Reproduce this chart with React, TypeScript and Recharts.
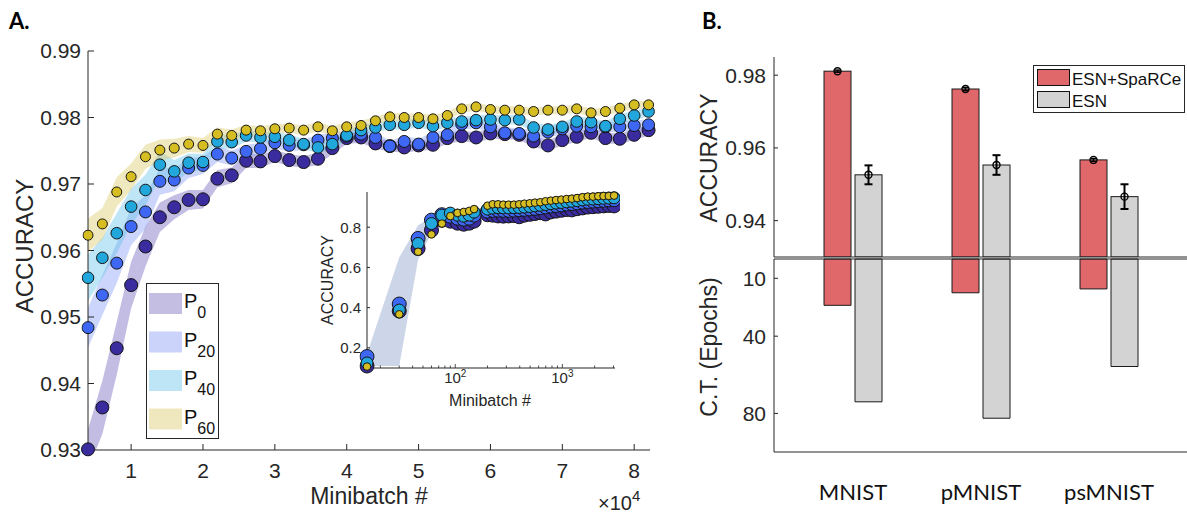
import React from "react";
import {
  Area,
  Bar,
  BarChart,
  ComposedChart,
  ErrorBar,
  Line,
  ReferenceLine,
  XAxis,
  YAxis,
} from "recharts";

const FONT = '"Liberation Sans", Arial, Helvetica, sans-serif';
const TITLE_FONT = 'Lato, "Open Sans", sans-serif';
const INK = "#262626";

// ---- panel A, main axes (minibatch in units of 10^4) ----
const minibatch = [
  0.4, 0.6, 0.8, 1.0, 1.2, 1.4, 1.6, 1.8, 2.0, 2.2, 2.4, 2.6, 2.8, 3.0, 3.2, 3.4, 3.6, 3.8, 4.0, 4.2,
  4.4, 4.6, 4.8, 5.0, 5.2, 5.4, 5.6, 5.8, 6.0, 6.2, 6.4, 6.6, 6.8, 7.0, 7.2, 7.4, 7.6, 7.8, 8.0, 8.2,
];
const accP0 = [
  0.9301, 0.9364, 0.9453, 0.9548, 0.9606, 0.965, 0.9665, 0.9676, 0.9677, 0.9708, 0.9713, 0.9735, 0.9734,
  0.9742, 0.9736, 0.9733, 0.9738, 0.9754, 0.9769, 0.977, 0.9761, 0.9757, 0.9755, 0.9758, 0.9759, 0.9769,
  0.9772, 0.977, 0.9776, 0.9775, 0.9774, 0.9764, 0.9758, 0.9766, 0.9771, 0.9777, 0.9769, 0.9768, 0.9774,
  0.9781,
];
const accP20 = [
  0.9484, 0.9533, 0.9581, 0.9636, 0.9658, 0.9704, 0.9706, 0.9724, 0.9728, 0.9745, 0.9739, 0.9749, 0.9753,
  0.9762, 0.9758, 0.9759, 0.9766, 0.9769, 0.9772, 0.9775, 0.977, 0.9757, 0.9764, 0.976, 0.977, 0.9774,
  0.979, 0.9792, 0.9786, 0.9777, 0.9776, 0.9772, 0.9778, 0.9783, 0.9787, 0.9786, 0.9786, 0.9786, 0.9788,
  0.9789,
];
const accP40 = [
  0.9559, 0.9589, 0.9626, 0.9666, 0.9691, 0.9729, 0.9719, 0.9732, 0.9733, 0.9764, 0.9763, 0.9773, 0.977,
  0.9771, 0.9766, 0.976, 0.9755, 0.976, 0.9773, 0.9781, 0.9785, 0.9789, 0.9789, 0.9792, 0.9787, 0.9792,
  0.9794, 0.9796, 0.9797, 0.9796, 0.9797, 0.9785, 0.9782, 0.9786, 0.9794, 0.9793, 0.9787, 0.9798, 0.9803,
  0.9809,
];
const accP60 = [
  0.9623, 0.964, 0.9688, 0.9711, 0.9741, 0.9751, 0.9754, 0.976, 0.9758, 0.9775, 0.9773, 0.9781, 0.978,
  0.9783, 0.9784, 0.9781, 0.9786, 0.978, 0.9786, 0.9788, 0.9795, 0.9801, 0.98, 0.98, 0.9798, 0.9803,
  0.9813, 0.9816, 0.9812, 0.9811, 0.9811, 0.9809, 0.9811, 0.9811, 0.9813, 0.9807, 0.9809, 0.9814, 0.9819,
  0.9819,
];
// half widths of the shaded bands
const spreadP0 = [
  0.003, 0.004, 0.004, 0.0035, 0.003, 0.0022, 0.0018, 0.0015, 0.0014, 0.0013, 0.0012, 0.0011, 0.001,
  0.0009, 0.0009, 0.0009, 0.0009, 0.0009, 0.0009, 0.0008, 0.0008, 0.0008, 0.0008, 0.0008, 0.0008, 0.0008,
  0.0008, 0.0008, 0.0008, 0.0008, 0.0008, 0.0008, 0.0008, 0.0008, 0.0008, 0.0008, 0.0008, 0.0008, 0.0008,
  0.0008,
];
const spreadP20 = [
  0.003, 0.003, 0.003, 0.0028, 0.0025, 0.002, 0.0017, 0.0015, 0.0013, 0.0012, 0.0011, 0.001, 0.0009,
  0.0009, 0.0009, 0.0008, 0.0008, 0.0008, 0.0008, 0.0008, 0.0008, 0.0008, 0.0008, 0.0008, 0.0008, 0.0008,
  0.0008, 0.0008, 0.0008, 0.0008, 0.0008, 0.0008, 0.0008, 0.0008, 0.0008, 0.0008, 0.0008, 0.0008, 0.0008,
  0.0008,
];
const spreadP40 = [
  0.0035, 0.003, 0.003, 0.0027, 0.0023, 0.002, 0.0017, 0.0014, 0.0012, 0.0011, 0.001, 0.0009, 0.0008,
  0.0008, 0.0008, 0.0008, 0.0008, 0.0008, 0.0008, 0.0008, 0.0007, 0.0007, 0.0007, 0.0007, 0.0007, 0.0007,
  0.0007, 0.0007, 0.0007, 0.0007, 0.0007, 0.0007, 0.0007, 0.0007, 0.0007, 0.0007, 0.0007, 0.0007, 0.0007,
  0.0007,
];
const spreadP60 = [
  0.0025, 0.0024, 0.0022, 0.002, 0.0018, 0.0016, 0.0014, 0.0012, 0.0011, 0.001, 0.0009, 0.0008, 0.0007,
  0.0007, 0.0007, 0.0007, 0.0007, 0.0007, 0.0007, 0.0007, 0.0006, 0.0006, 0.0006, 0.0006, 0.0006, 0.0006,
  0.0006, 0.0006, 0.0006, 0.0006, 0.0006, 0.0006, 0.0006, 0.0006, 0.0006, 0.0006, 0.0006, 0.0006, 0.0006,
  0.0006,
];
const mainXTicks = [1, 2, 3, 4, 5, 6, 7, 8];
const mainYTicks = [0.93, 0.94, 0.95, 0.96, 0.97, 0.98, 0.99];

// ---- panel A, inset (log x) ----
const insetMinibatch = [
  15, 30, 45, 60, 75, 90, 105, 120, 135, 150, 200, 224, 251, 281, 315, 353, 395, 442, 496, 555, 622, 696,
  780, 873, 978, 1096, 1227, 1375, 1540, 1724, 1931, 2163, 2423, 2713, 3039,
];
const insetP0 = [
  0.11, 0.383, 0.694, 0.785, 0.835, 0.83, 0.82, 0.815, 0.82, 0.83, 0.862, 0.86, 0.856, 0.855, 0.856, 0.858,
  0.852, 0.86, 0.864, 0.868, 0.872, 0.866, 0.876, 0.88, 0.884, 0.888, 0.886, 0.892, 0.896, 0.9, 0.902,
  0.904, 0.906, 0.908, 0.906,
];
const insetP20 = [
  0.157, 0.418, 0.744, 0.835, 0.862, 0.855, 0.845, 0.84, 0.845, 0.86, 0.88, 0.884, 0.885, 0.884, 0.884,
  0.885, 0.887, 0.889, 0.891, 0.894, 0.897, 0.901, 0.905, 0.908, 0.911, 0.915, 0.918, 0.921, 0.925, 0.928,
  0.93, 0.932, 0.934, 0.936, 0.937,
];
const insetP40 = [
  0.125, 0.388, 0.719, 0.818, 0.86, 0.87, 0.86, 0.855, 0.86, 0.875, 0.89, 0.895, 0.897, 0.896, 0.896,
  0.897, 0.898, 0.9, 0.903, 0.906, 0.909, 0.913, 0.917, 0.92, 0.923, 0.926, 0.929, 0.932, 0.936, 0.939,
  0.94, 0.942, 0.944, 0.945, 0.946,
];
const insetP60 = [
  0.107, 0.367, 0.678, 0.764, 0.818, 0.855, 0.871, 0.876, 0.881, 0.89, 0.907, 0.914, 0.914, 0.912, 0.912,
  0.912, 0.914, 0.917, 0.919, 0.922, 0.924, 0.929, 0.932, 0.935, 0.937, 0.94, 0.942, 0.945, 0.949, 0.952,
  0.952, 0.954, 0.955, 0.955, 0.957,
];
const insetBandLow = [0.11, 0.11, 0.64, 0.77, 0.82];
const insetBandHigh = [0.17, 0.65, 0.81, 0.85, 0.87];
const insetXTicks = [20, 30, 40, 50, 60, 70, 80, 90, 100, 200, 300, 400, 500, 600, 700, 800, 900, 1000, 2000, 3000];
const insetXLabelled = [100, 1000];
const insetYTicks = [0.2, 0.4, 0.6, 0.8];

// ---- panel B ----
const datasets = ["MNIST", "pMNIST", "psMNIST"];
const accSparce = [0.9811, 0.9762, 0.9567];
const accSparceErr = [0.0003, 0.0004, 0.0004];
const accEsn = [0.9526, 0.9553, 0.9466];
const accEsnErr = [0.0026, 0.0027, 0.0034];
const epochsSparce = [24, 17.5, 15.5];
const epochsEsn = [74, 82.5, 55.7];
const accTicks = [0.94, 0.96, 0.98];
const epochTicks = [10, 40, 80];

const series = [
  { key: "p0", label: "0", dot: "#3a2b9e", band: "#7a6cc4", bandOpacity: 0.45, swatch: "#c5bee3", r: 6.5, ri: 7 },
  { key: "p20", label: "20", dot: "#3e68f4", band: "#7f95f5", bandOpacity: 0.4, swatch: "#cbd3fb", r: 6, ri: 7 },
  { key: "p40", label: "40", dot: "#21a7dc", band: "#5fc0ea", bandOpacity: 0.4, swatch: "#bee5f6", r: 5.8, ri: 6 },
  { key: "p60", label: "60", dot: "#d5bd22", band: "#d9c560", bandOpacity: 0.4, swatch: "#efe7be", r: 5, ri: 3.8 },
];

const mainValues = [accP0, accP20, accP40, accP60];
const mainSpreads = [spreadP0, spreadP20, spreadP40, spreadP60];
const insetValues = [insetP0, insetP20, insetP40, insetP60];

const mainRows = minibatch.map((x, i) => {
  const row: any = { x };
  series.forEach((s, k) => {
    const v = mainValues[k][i];
    row[s.key] = v;
    row[s.key + "Band"] = [v - mainSpreads[k][i], v + mainSpreads[k][i]];
  });
  return row;
});

const insetRows = insetMinibatch.map((x, i) => {
  const row: any = { x };
  series.forEach((s, k) => {
    row[s.key] = insetValues[k][i];
  });
  if (i < insetBandLow.length) row.band = [insetBandLow[i], insetBandHigh[i]];
  return row;
});

const barRows = datasets.map((name, i) => ({
  name,
  sparce: accSparce[i],
  sparceErr: accSparceErr[i],
  esn: accEsn[i],
  esnErr: accEsnErr[i],
  ctSparce: epochsSparce[i],
  ctEsn: epochsEsn[i],
}));

const tickStyle = { fontSize: 21, fill: INK, fontFamily: FONT };

const LogTick = (props: any) => {
  const { x, y, payload } = props;
  const major = insetXLabelled.includes(payload.value);
  return (
    <g>
      <line x1={x} x2={x} y1={y} y2={y - (major ? 4 : 2.5)} stroke={INK} strokeWidth={0.8} />
      {major && (
        <text x={x} y={y + 15} textAnchor="middle" fontSize={15} fill={INK} fontFamily={FONT}>
          10
          <tspan dy={-6} fontSize={10}>
            {Math.round(Math.log10(payload.value))}
          </tspan>
        </text>
      )}
    </g>
  );
};

const BarWithMean = (props: any) => {
  const { x, y, width, height, fill } = props;
  return (
    <g>
      <rect x={x} y={y} width={width} height={height} fill={fill} stroke="#1a1a1a" strokeWidth={1} />
      <circle cx={x + width / 2} cy={y} r={3.5} fill="none" stroke="#000" strokeWidth={1.4} />
    </g>
  );
};

const RED = "#e0676a";
const GREY = "#d3d3d3";

export default function App() {
  return (
    <div
      style={{
        position: "absolute",
        left: 0,
        top: 0,
        width: 1187,
        height: 514,
        overflow: "hidden",
        background: "#fff",
        fontFamily: FONT,
      }}
    >
      {/* panel A main */}
      <div style={{ position: "absolute", left: 0, top: 0 }}>
        <ComposedChart width={680} height={514} data={mainRows} margin={{ top: 51, right: 30, bottom: 0, left: 0 }}>
          <XAxis
            dataKey="x"
            type="number"
            domain={[0.4, 8.22]}
            ticks={mainXTicks}
            interval={0}
            allowDataOverflow
            height={64}
            tickSize={-6}
            tickMargin={19}
            stroke={INK}
            tick={tickStyle}
          />
          <YAxis
            type="number"
            domain={[0.93, 0.99]}
            ticks={mainYTicks}
            interval={0}
            allowDataOverflow
            width={88}
            tickSize={-6}
            tickMargin={13}
            stroke={INK}
            tick={tickStyle}
            tickFormatter={(v: number) => v.toFixed(2)}
          />
          {series.map((s) => (
            <Area
              key={s.key + "Band"}
              dataKey={s.key + "Band"}
              type="linear"
              stroke="none"
              fill={s.band}
              fillOpacity={s.bandOpacity}
              activeDot={false}
              isAnimationActive={false}
            />
          ))}
          {series.map((s) => (
            <Line
              key={s.key}
              dataKey={s.key}
              stroke="none"
              dot={{ r: s.r, fill: s.dot, stroke: "#151515", strokeWidth: 1, fillOpacity: 1, clipDot: false }}
              activeDot={false}
              isAnimationActive={false}
            />
          ))}
        </ComposedChart>
      </div>

      {/* panel A inset */}
      <div style={{ position: "absolute", left: 300, top: 170 }}>
        <ComposedChart width={320} height={230} data={insetRows} margin={{ top: 22, right: 5, bottom: 0, left: 0 }}>
          <XAxis
            dataKey="x"
            type="number"
            scale="log"
            domain={[15, 3100]}
            allowDataOverflow
            ticks={insetXTicks}
            interval={0}
            height={32}
            tickSize={0}
            tickMargin={0}
            stroke={INK}
            tick={(p: any) => <LogTick {...p} />}
          />
          <YAxis
            type="number"
            domain={[0.1, 0.975]}
            ticks={insetYTicks}
            interval={0}
            allowDataOverflow
            width={67}
            tickSize={-3}
            tickMargin={9}
            stroke={INK}
            tick={{ fontSize: 15, fill: INK, fontFamily: FONT }}
            tickFormatter={(v: number) => v.toFixed(1)}
          />
          <Area
            dataKey="band"
            type="linear"
            stroke="none"
            fill="#8fa5cc"
            fillOpacity={0.45}
            activeDot={false}
            isAnimationActive={false}
          />
          {series.map((s) => (
            <Line
              key={s.key}
              dataKey={s.key}
              stroke="none"
              dot={{ r: s.ri, fill: s.dot, stroke: "#151515", strokeWidth: 1, fillOpacity: 1, clipDot: false }}
              activeDot={false}
              isAnimationActive={false}
            />
          ))}
        </ComposedChart>
      </div>

      {/* panel B accuracy */}
      <div style={{ position: "absolute", left: 690, top: 40 }}>
        <BarChart
          width={497}
          height={218}
          data={barRows}
          margin={{ top: 17, right: 0, bottom: 0, left: 0 }}
          barSize={27}
          barGap={4}
        >
          <XAxis dataKey="name" height={1} tick={false} tickLine={false} stroke={INK} padding={{ left: 15, right: 14 }} />
          <YAxis
            type="number"
            domain={[0.93, 0.985]}
            ticks={accTicks}
            interval={0}
            allowDataOverflow
            width={84}
            tickSize={-4}
            tickMargin={12}
            stroke={INK}
            tick={tickStyle}
            tickFormatter={(v: number) => v.toFixed(2)}
          />
          <Bar dataKey="sparce" fill={RED} shape={BarWithMean} isAnimationActive={false}>
            <ErrorBar dataKey="sparceErr" width={3} strokeWidth={1.5} stroke="#000" />
          </Bar>
          <Bar dataKey="esn" fill={GREY} shape={BarWithMean} isAnimationActive={false}>
            <ErrorBar dataKey="esnErr" width={4} strokeWidth={2} stroke="#000" />
          </Bar>
        </BarChart>
      </div>

      {/* panel B convergence time */}
      <div style={{ position: "absolute", left: 690, top: 250 }}>
        <BarChart
          width={497}
          height={262}
          data={barRows}
          margin={{ top: 9, right: 0, bottom: 0, left: 0 }}
          barSize={27}
          barGap={4}
        >
          <XAxis
            dataKey="name"
            height={60}
            tickLine={false}
            tickSize={0}
            tickMargin={32}
            stroke={INK}
            padding={{ left: 15, right: 14 }}
            interval={0}
            tick={{ fontSize: 22, fill: "#111", fontFamily: TITLE_FONT }}
          />
          <YAxis
            type="number"
            domain={[0, 100]}
            reversed
            ticks={epochTicks}
            interval={0}
            width={84}
            tickSize={-4}
            tickMargin={12}
            stroke={INK}
            tick={tickStyle}
          />
          <ReferenceLine y={0} stroke={INK} strokeWidth={1} />
          <Bar dataKey="ctSparce" fill={RED} stroke="#1a1a1a" strokeWidth={1} isAnimationActive={false} />
          <Bar dataKey="ctEsn" fill={GREY} stroke="#1a1a1a" strokeWidth={1} isAnimationActive={false} />
        </BarChart>
      </div>

      {/* titles and legends */}
      <svg
        width={1187}
        height={514}
        style={{ position: "absolute", left: 0, top: 0, pointerEvents: "none" }}
      >
        <text x={9} y={29} fontSize={22} fontWeight={700} fontFamily={TITLE_FONT} fill="#000">
          A.
        </text>
        <text x={702} y={29} fontSize={22} fontWeight={700} fontFamily={TITLE_FONT} fill="#000">
          B.
        </text>
        <text x={33} y={246} transform="rotate(-90 33 246)" textAnchor="middle" fontSize={24} fill={INK} fontFamily={FONT}>
          ACCURACY
        </text>
        <text x={369} y={504} textAnchor="middle" fontSize={23} fill={INK} fontFamily={FONT}>
          Minibatch #
        </text>
        <text x={598} y={510} fontSize={20} fill={INK} fontFamily={FONT}>
          ×10
          <tspan dy={-9} fontSize={15}>
            4
          </tspan>
        </text>
        <text x={333} y={280} transform="rotate(-90 333 280)" textAnchor="middle" fontSize={16} fill={INK} fontFamily={FONT}>
          ACCURACY
        </text>
        <text x={490} y={406} textAnchor="middle" fontSize={16} fill={INK} fontFamily={FONT}>
          Minibatch #
        </text>
        <text x={717} y={158} transform="rotate(-90 717 158)" textAnchor="middle" fontSize={23} fill={INK} fontFamily={FONT}>
          ACCURACY
        </text>
        <text x={717} y={347} transform="rotate(-90 717 347)" textAnchor="middle" fontSize={23} fill={INK} fontFamily={FONT}>
          C.T. (Epochs)
        </text>

        {/* legend A */}
        <rect x={146.5} y={283.5} width={72} height={155} fill="#fff" stroke={INK} strokeWidth={1} />
        {series.map((s, k) => {
          const top = 293 + k * 38.5;
          return (
            <g key={s.key}>
              <rect x={149} y={top} width={33} height={21} fill={s.swatch} />
              <text x={184} y={top + 15} fontSize={20} fill="#111" fontFamily={FONT}>
                P
                <tspan dy={10} fontSize={16}>
                  {s.label}
                </tspan>
              </text>
            </g>
          );
        })}

        {/* legend B */}
        <rect x={1033.5} y={65.5} width={151} height={47} fill="#fff" stroke={INK} strokeWidth={1} />
        <rect x={1037.5} y={69.5} width={32} height={16} fill={RED} stroke="#111" strokeWidth={1} />
        <text x={1072} y={85} fontSize={17} fill="#111" fontFamily={FONT}>
          ESN+SpaRCe
        </text>
        <rect x={1037.5} y={91.5} width={32} height={16} fill={GREY} stroke="#111" strokeWidth={1} />
        <text x={1072} y={107} fontSize={17} fill="#111" fontFamily={FONT}>
          ESN
        </text>
      </svg>
    </div>
  );
}
